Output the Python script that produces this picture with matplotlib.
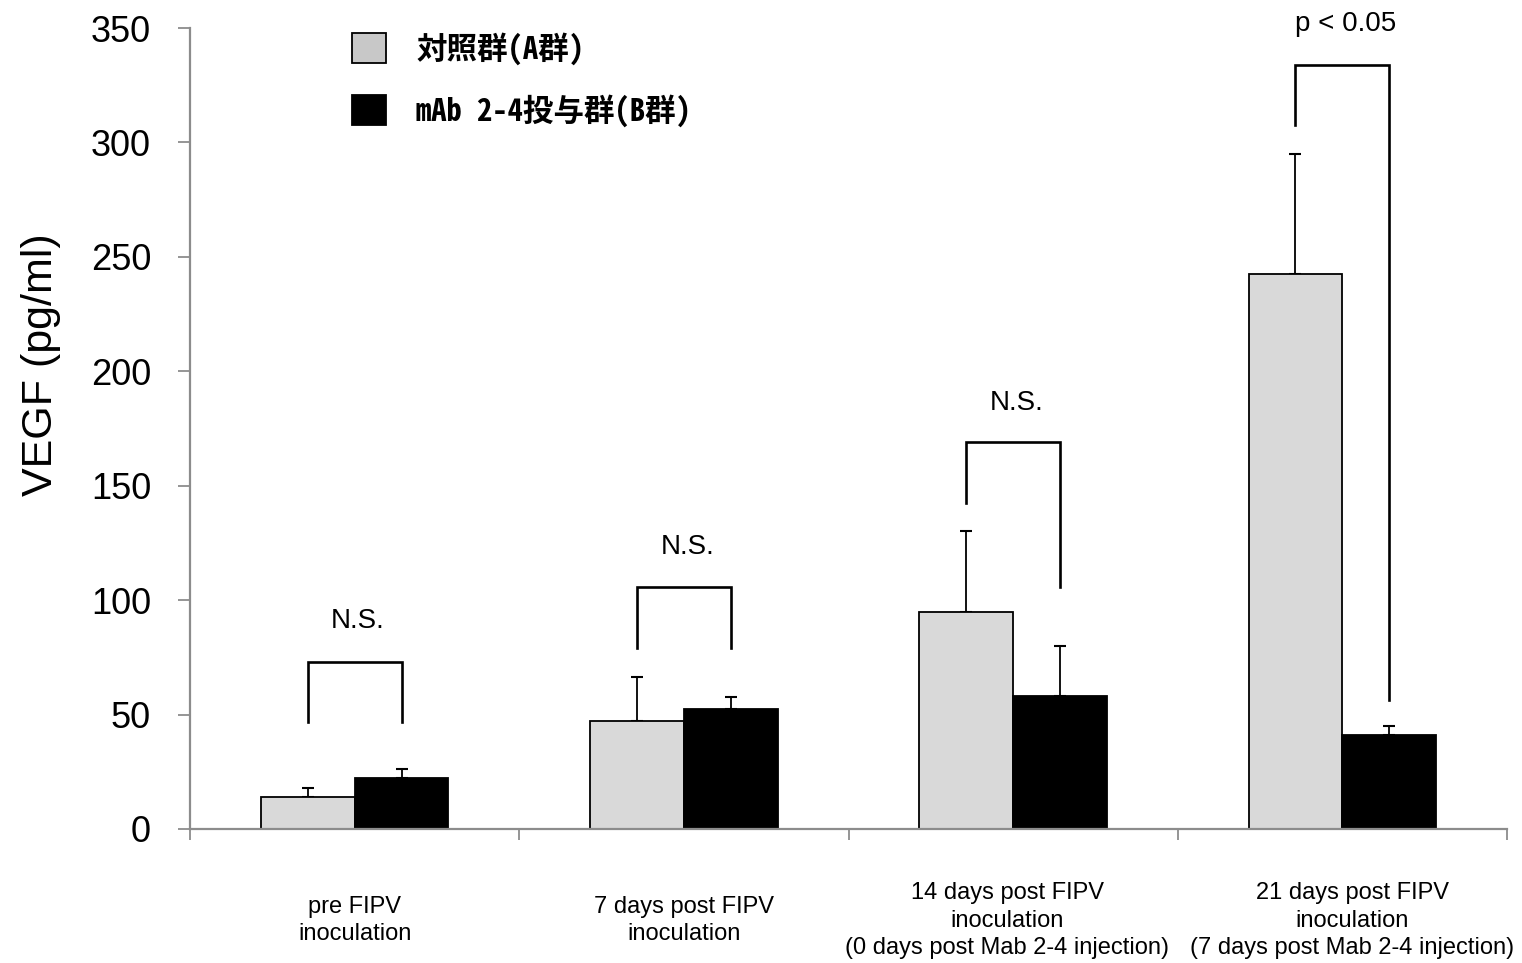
import matplotlib
matplotlib.use("Agg")
import matplotlib.pyplot as plt
import matplotlib.transforms as mtransforms
from matplotlib.patches import Patch
import numpy as np

plt.rcParams["font.family"] = ["Liberation Sans", "DejaVu Sans"]

# --- data -------------------------------------------------------------
categories = [
    "pre FIPV\ninoculation",
    "7 days post FIPV\ninoculation",
    "14 days post FIPV\ninoculation\n(0 days post Mab 2-4 injection)",
    "21 days post FIPV\ninoculation\n(7 days post Mab 2-4 injection)",
]
group_a_label = "対照群(A群)"
group_b_label = "mAb 2-4投与群(B群)"

group_a_mean = [14.0, 47.0, 94.7, 242.5]
group_a_upper = [18.0, 66.3, 130.0, 295.1]   # top of error bar
group_b_mean = [22.5, 52.6, 58.0, 41.1]
group_b_upper = [26.0, 57.7, 80.0, 44.8]

sig_labels = ["N.S.", "N.S.", "N.S.", "p < 0.05"]
bracket_top = [73.0, 105.6, 169.0, 333.8]
bracket_left_foot = [46.7, 79.1, 142.4, 307.5]
bracket_right_foot = [46.7, 79.1, 105.7, 56.4]
sig_text_y = [90.9, 123.2, 186.0, 351.7]

yticks = [0, 50, 100, 150, 200, 250, 300, 350]

# --- figure -----------------------------------------------------------
W, H = 1522, 963
fig = plt.figure(figsize=(W / 100, H / 100), dpi=100)
ax = fig.add_axes([190 / W, 1 - 829 / H, (1507 - 190) / W, (829 - 28) / H])

axis_gray = "#8c8c8c"
light = "#d9d9d9"

x = np.arange(len(categories))
bw = 0.285
xa = x - bw / 2
xb = x + bw / 2

a_mean = np.array(group_a_mean)
b_mean = np.array(group_b_mean)
a_err = np.array(group_a_upper) - a_mean
b_err = np.array(group_b_upper) - b_mean

ax.bar(xa, a_mean, width=bw, color=light, edgecolor="black", linewidth=1.3, zorder=3)
ax.bar(xb, b_mean, width=bw, color="black", edgecolor="black", linewidth=1.3, zorder=3)

err_kw = dict(fmt="none", ecolor="black", elinewidth=1.3, capsize=4.5, capthick=1.5, zorder=2)
ax.errorbar(xa, a_mean, yerr=[np.zeros_like(a_err), a_err], **err_kw)
ax.errorbar(xb, b_mean, yerr=[np.zeros_like(b_err), b_err], **err_kw)

# significance brackets
for i in range(len(categories)):
    ax.plot([xa[i], xa[i], xb[i], xb[i]],
            [bracket_left_foot[i], bracket_top[i], bracket_top[i], bracket_right_foot[i]],
            color="black", linewidth=1.9, solid_joinstyle="miter", clip_on=False, zorder=4)
    ax.text(x[i] + 0.01, sig_text_y[i], sig_labels[i], ha="center", va="center",
            fontsize=20, clip_on=False)

# axes styling
ax.set_xlim(-0.5, len(categories) - 0.5)
ax.set_ylim(0, 350)
ax.set_yticks(yticks)
ax.tick_params(axis="y", direction="out", length=9, width=1.3, color=axis_gray,
               labelsize=26, pad=19)
ax.set_xticks(x)
ax.set_xticklabels(categories, fontsize=17, va="center", linespacing=1.33)
ax.tick_params(axis="x", which="major", length=0, pad=66)
ax.set_xticks(np.arange(-0.5, len(categories), 1.0), minor=True)
ax.tick_params(axis="x", which="minor", direction="out", length=8, width=1.3, color=axis_gray)

# nudge the two long labels apart so they do not crowd each other
label_shift_px = [0, 0, -6, 10]
for lbl, dx in zip(ax.get_xticklabels(), label_shift_px):
    lbl.set_transform(lbl.get_transform()
                      + mtransforms.ScaledTranslation(dx / 100, 0, fig.dpi_scale_trans))

for s in ("top", "right"):
    ax.spines[s].set_visible(False)
for s in ("left", "bottom"):
    ax.spines[s].set_color(axis_gray)
    ax.spines[s].set_linewidth(1.6)
ax.spines["bottom"].set_zorder(5)

ax.set_ylabel("VEGF (pg/ml)", fontsize=31, va="center")
ax.yaxis.set_label_coords((41 - 190) / (1507 - 190), (829 - 365) / (829 - 28))

# legend
handles = [
    Patch(facecolor="#c8c8c8", edgecolor="black", linewidth=1.3, label=group_a_label),
    Patch(facecolor="black", edgecolor="black", linewidth=1.3, label=group_b_label),
]
leg = fig.legend(handles=handles, loc="upper left",
                 bbox_to_anchor=(352 / W, 1 - 32 / H),
                 frameon=False, borderpad=0, borderaxespad=0,
                 handlelength=1.1, handleheight=1.1, handletextpad=1.0,
                 labelspacing=0.95,
                 prop={"family": ["Noto Sans Mono CJK JP", "Noto Sans CJK JP", "DejaVu Sans"],
                       "size": 22, "weight": "bold"})

fig.savefig("out.png", dpi=100)
